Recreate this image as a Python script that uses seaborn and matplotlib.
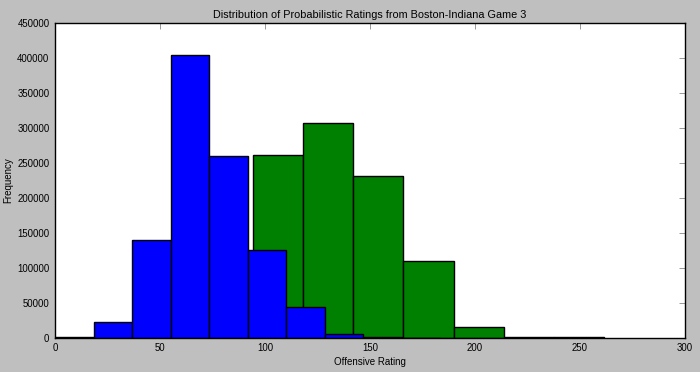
import numpy as np
import pandas as pd
import matplotlib
matplotlib.use("Agg")
import matplotlib.pyplot as plt
import seaborn as sns

# Bin edges and counts
blue_edges = [0.0, 18.35, 36.7, 55.05, 73.4, 91.75, 110.1, 128.45, 146.8, 165.15, 183.5]
blue_counts = [500, 23000, 140500, 404000, 260000, 126000, 44000, 4800, 300, 20]

green_edges = [22.5, 46.4, 70.3, 94.2, 118.1, 142.0, 165.9, 189.8, 213.7, 237.6, 261.5]
green_counts = [50, 3000, 70000, 261500, 307500, 232000, 110000, 15500, 1500, 300]

title = "Distribution of Probabilistic Ratings from Boston-Indiana Game 3"
xlabel = "Offensive Rating"
ylabel = "Frequency"
xticks = [0, 50, 100, 150, 200, 250, 300]
yticks = list(range(0, 450001, 50000))

sns.set_style("white")
plt.rcParams["font.family"] = ["Liberation Sans", "DejaVu Sans"]
plt.rcParams["xtick.direction"] = "in"
plt.rcParams["ytick.direction"] = "in"
plt.rcParams["text.color"] = "black"
plt.rcParams["axes.labelcolor"] = "black"

def centers(edges):
    e = np.asarray(edges)
    return (e[:-1] + e[1:]) / 2

green_df = pd.DataFrame({"x": centers(green_edges), "w": green_counts})
blue_df = pd.DataFrame({"x": centers(blue_edges), "w": blue_counts})

fig = plt.figure(figsize=(7.0, 3.72), dpi=100, facecolor="#bfbfbf")
ax = fig.add_axes([0.0786, 0.0922, 0.9, 0.845])
ax.set_facecolor("white")

sns.histplot(data=green_df, x="x", weights="w", bins=green_edges, ax=ax,
             color="#008000", alpha=1.0, edgecolor="black", linewidth=1.0)
sns.histplot(data=blue_df, x="x", weights="w", bins=blue_edges, ax=ax,
             color="#0000ff", alpha=1.0, edgecolor="black", linewidth=1.0)

ax.set_xlim(0, 300)
ax.set_ylim(0, 450000)
ax.set_xticks(xticks)
ax.set_yticks(yticks)
ax.set_xticklabels([str(t) for t in xticks])
ax.set_yticklabels([str(t) for t in yticks])
ax.tick_params(axis="both", which="both", direction="in", top=True, right=True,
               length=4, width=0.6, color="#888888", labelcolor="black",
               labelsize=6.9, pad=4)
for s in ax.spines.values():
    s.set_visible(True)
    s.set_color("black")
    s.set_linewidth(1.0)

ax.set_title(title, fontsize=7.8, pad=4, color="black")
ax.set_xlabel(xlabel, fontsize=7.0, labelpad=3, color="black")
ax.set_ylabel(ylabel, fontsize=7.0, color="black")
ax.yaxis.set_label_coords(-0.066, 0.5)

fig.savefig("out.png", dpi=100, facecolor=fig.get_facecolor())
